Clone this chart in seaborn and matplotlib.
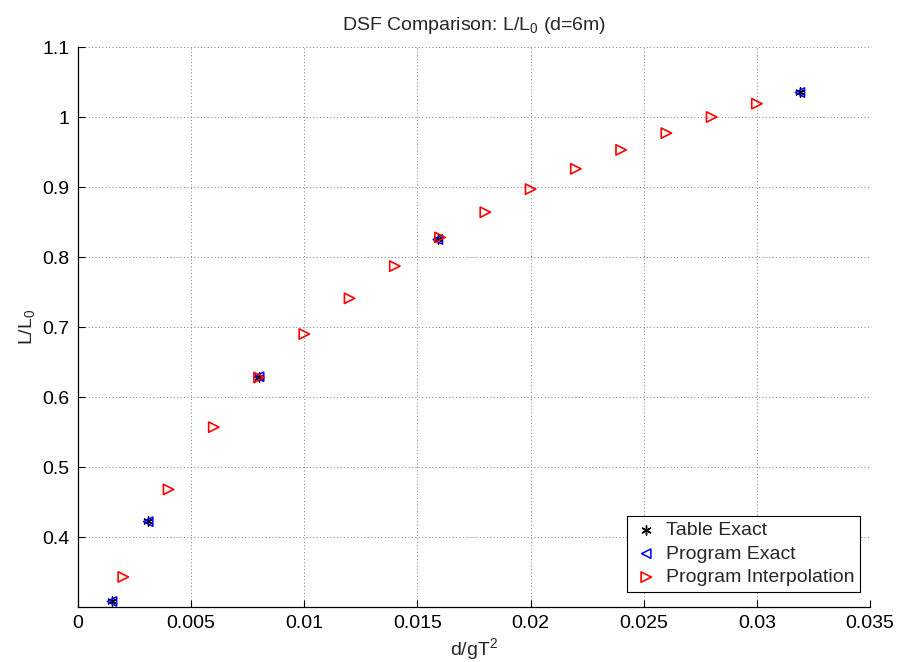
import numpy as np
import pandas as pd
import matplotlib
matplotlib.use("Agg")
import matplotlib.pyplot as plt
import seaborn as sns

# Relative depth d/gT^2 and wavelength ratio L/L0
table_x = [0.0015, 0.0031, 0.0080, 0.0159, 0.0319]
table_y = [0.308, 0.423, 0.628, 0.826, 1.036]

prog_exact_x = [0.0015, 0.0031, 0.0080, 0.0159, 0.0319]
prog_exact_y = [0.308, 0.422, 0.629, 0.825, 1.035]

interp_x = [0.002, 0.004, 0.006, 0.008, 0.010, 0.012, 0.014, 0.016,
            0.018, 0.020, 0.022, 0.024, 0.026, 0.028, 0.030]
interp_y = [0.343, 0.468, 0.557, 0.628, 0.690, 0.741, 0.787, 0.828,
            0.864, 0.897, 0.926, 0.953, 0.977, 1.000, 1.019]

xticks = [0, 0.005, 0.01, 0.015, 0.02, 0.025, 0.03, 0.035]
xtick_labels = ["0", "0.005", "0.01", "0.015", "0.02", "0.025", "0.03", "0.035"]
yticks = [0.4, 0.5, 0.6, 0.7, 0.8, 0.9, 1.0, 1.1]
ytick_labels = ["0.4", "0.5", "0.6", "0.7", "0.8", "0.9", "1", "1.1"]

sns.set_style("white")
plt.rcParams["font.family"] = ["Liberation Sans", "DejaVu Sans"]
plt.rcParams["mathtext.default"] = "regular"

FS = 14

fig = plt.figure(figsize=(9, 6.62), dpi=100)
ax = fig.add_axes([0.0867, 0.083, 0.88, 0.846])

df_table = pd.DataFrame({"x": table_x, "y": table_y})
df_exact = pd.DataFrame({"x": prog_exact_x, "y": prog_exact_y})
df_interp = pd.DataFrame({"x": interp_x, "y": interp_y})

sns.scatterplot(data=df_table, x="x", y="y", ax=ax, marker=(6, 2, 0), s=45,
                color="black", linewidth=1.0, label="Table Exact", zorder=3)
sns.scatterplot(data=df_exact, x="x", y="y", ax=ax, marker="<", s=45,
                color="blue", facecolors="none", edgecolors="blue",
                linewidth=1.1, label="Program Exact", zorder=4)
sns.scatterplot(data=df_interp, x="x", y="y", ax=ax, marker=">", s=55,
                color="red", facecolors="none", edgecolors="red",
                linewidth=1.2, label="Program Interpolation", zorder=5)

ax.set_xlim(0, 0.035)
ax.set_ylim(0.3, 1.1)
ax.set_xticks(xticks)
ax.set_xticklabels(xtick_labels)
ax.set_yticks(yticks)
ax.set_yticklabels(ytick_labels)
ax.tick_params(axis="both", direction="in", length=5, labelsize=FS,
               colors="black", pad=6, bottom=True, left=True)

ax.grid(True, linestyle=(0, (1, 2.5)), color="#777777", linewidth=0.7)
for side in ["top", "right"]:
    ax.spines[side].set_visible(False)
for side in ["left", "bottom"]:
    ax.spines[side].set_color("black")
    ax.spines[side].set_linewidth(0.9)

ax.set_xlabel("d/gT$^2$", fontsize=FS, labelpad=3)
ax.set_ylabel("L/L$_0$", fontsize=FS, labelpad=4)
ax.set_title("DSF Comparison: L/L$_0$ (d=6m)", fontsize=FS, pad=12)

leg = ax.legend(loc="lower right", bbox_to_anchor=(860 / 900, 1 - 592 / 662),
                bbox_transform=fig.transFigure, borderaxespad=0,
                fontsize=FS, frameon=True, fancybox=False,
                edgecolor="black", framealpha=1, handlelength=1.4,
                handletextpad=0.3, labelspacing=0.3, borderpad=0.3)
leg.get_frame().set_linewidth(0.8)

fig.savefig("out.png", dpi=100)
